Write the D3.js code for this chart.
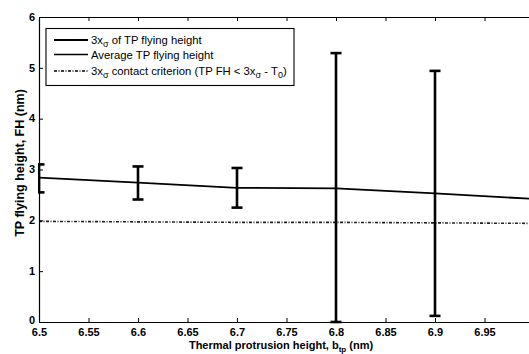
<!DOCTYPE html>
<html><head><meta charset="utf-8">
<script src="https://cdn.jsdelivr.net/npm/d3@7"></script>
<style>body{margin:0;background:#fff}svg{display:block}text{font-family:"Liberation Sans",Arial,sans-serif}</style>
</head><body>
<svg id="c" width="529" height="354"></svg>
<script>
const xVals = [6.5, 6.6, 6.7, 6.8, 6.9, 7.0];
const avgFH = [2.84, 2.74, 2.64, 2.63, 2.53, 2.42];
const criterion = [1.98, 1.97, 1.96, 1.96, 1.95, 1.94];
const barX = [6.5, 6.6, 6.7, 6.8, 6.9];
const upper3s = [3.10, 3.06, 3.03, 5.29, 4.94];
const lower3s = [2.55, 2.41, 2.25, 0.00, 0.12];
const xTicks = [6.5, 6.55, 6.6, 6.65, 6.7, 6.75, 6.8, 6.85, 6.9, 6.95];
const yTicks = [0, 1, 2, 3, 4, 5, 6];

const svg = d3.select("#c");
const L = 39, R = 534, T = 17, B = 322;
const x = d3.scaleLinear().domain([6.5, 7.0]).range([L, R]);
const y = d3.scaleLinear().domain([0, 6]).range([B, T]);

svg.append("defs").append("clipPath").attr("id","pc")
  .append("rect").attr("x", L - 1).attr("y", T).attr("width", R - L + 1).attr("height", B - T + 3);

const plot = svg.append("g").attr("clip-path", "url(#pc)");

// criterion line
plot.append("path").datum(xVals.map((v,i)=>[v, criterion[i]]))
  .attr("d", d3.line().x(d=>x(d[0])).y(d=>y(d[1])))
  .attr("fill","none").attr("stroke","#222").attr("stroke-width",1.6)
  .attr("stroke-dasharray","3,1.5,1,1.5");

// average line
plot.append("path").datum(xVals.map((v,i)=>[v, avgFH[i]]))
  .attr("d", d3.line().x(d=>x(d[0])).y(d=>y(d[1])))
  .attr("fill","none").attr("stroke","#000").attr("stroke-width",1.8);

// error bars
const eb = plot.selectAll("g.eb").data(barX.map((v,i)=>({v, hi: upper3s[i], lo: lower3s[i]}))).enter().append("g");
eb.append("line").attr("x1",d=>x(d.v)).attr("x2",d=>x(d.v)).attr("y1",d=>y(d.hi)).attr("y2",d=>y(d.lo))
  .attr("stroke","#000").attr("stroke-width",2.6);
eb.append("line").attr("x1",d=>x(d.v)-5.5).attr("x2",d=>x(d.v)+5.5).attr("y1",d=>y(d.hi)).attr("y2",d=>y(d.hi))
  .attr("stroke","#000").attr("stroke-width",2.6);
eb.append("line").attr("x1",d=>x(d.v)-5.5).attr("x2",d=>x(d.v)+5.5).attr("y1",d=>y(d.lo)).attr("y2",d=>y(d.lo))
  .attr("stroke","#000").attr("stroke-width",2.6);

// axes
const gx = svg.append("g").attr("transform", `translate(0,${B})`)
  .call(d3.axisBottom(x).tickValues(xTicks).tickFormat(d3.format("")).tickSizeInner(-4).tickSizeOuter(0).tickPadding(6));
const gxt = svg.append("g").attr("transform", `translate(0,${T})`)
  .call(d3.axisTop(x).tickValues(xTicks).tickFormat("").tickSizeInner(-4).tickSizeOuter(0));
const gy = svg.append("g").attr("transform", `translate(${L},0)`)
  .call(d3.axisLeft(y).tickValues(yTicks).tickFormat(d3.format("d")).tickSizeInner(-4).tickSizeOuter(0).tickPadding(4));
[gx, gxt, gy].forEach(g => {
  g.select(".domain").attr("stroke", "#000").attr("stroke-width", 1.2);
  g.selectAll(".tick line").attr("stroke", "#000").attr("stroke-width", 1);
  g.selectAll("text").attr("font-size", 11).attr("font-weight", "bold").attr("fill", "#000");
});
gx.selectAll("text").attr("dy", "0.75em");
gy.selectAll("text").attr("dy", (d) => d === 0 ? "0.1em" : "0.3em");

// axis labels
const xl = svg.append("text").attr("x", 281).attr("y", 349).attr("text-anchor","middle")
  .attr("font-size", 11).attr("font-weight","bold");
xl.append("tspan").text("Thermal protrusion height, b");
xl.append("tspan").attr("font-size", 8).attr("dy", 3).text("tp");
xl.append("tspan").attr("dy", -3).text(" (nm)");

svg.append("text").attr("transform", "translate(24,163) rotate(-90)").attr("text-anchor","middle")
  .attr("font-size", 12.5).attr("font-weight","bold").text("TP flying height, FH (nm)");

// legend
const lg = svg.append("g");
lg.append("rect").attr("x", 46).attr("y", 28.5).attr("width", 248).attr("height", 57)
  .attr("fill","#fff").attr("stroke","#000").attr("stroke-width",1.1);
const legendItems = [
  {parts: [["3x",0],["σ",1],[" of TP flying height",0]], dash: null, w: 2},
  {parts: [["Average TP flying height",0]], dash: null, w: 1.6},
  {parts: [["3x",0],["σ",1],[" contact criterion (TP FH < 3x",0],["σ",1],[" - T",0],["0",1],[")",0]], dash: "3,1.5,1,1.5", w: 1.6}
];
const rowY = [40, 54.5, 71];
legendItems.forEach((it, i) => {
  lg.append("line").attr("x1", 54).attr("x2", 88).attr("y1", rowY[i]).attr("y2", rowY[i])
    .attr("stroke","#000").attr("stroke-width", it.w).attr("stroke-dasharray", it.dash);
  const t = lg.append("text").attr("x", 91).attr("y", rowY[i] + 4).attr("font-size", 11.3).attr("fill","#000");
  let sub = 0;
  it.parts.forEach(p => {
    const ts = t.append("tspan").text(p[0]);
    if (p[1] && !sub) { ts.attr("dy", 2.5).attr("font-size", 9); sub = 1; }
    else if (p[1]) { ts.attr("font-size", 9); }
    else if (sub) { ts.attr("dy", -2.5); sub = 0; }
  });
});
</script>
</body></html>
